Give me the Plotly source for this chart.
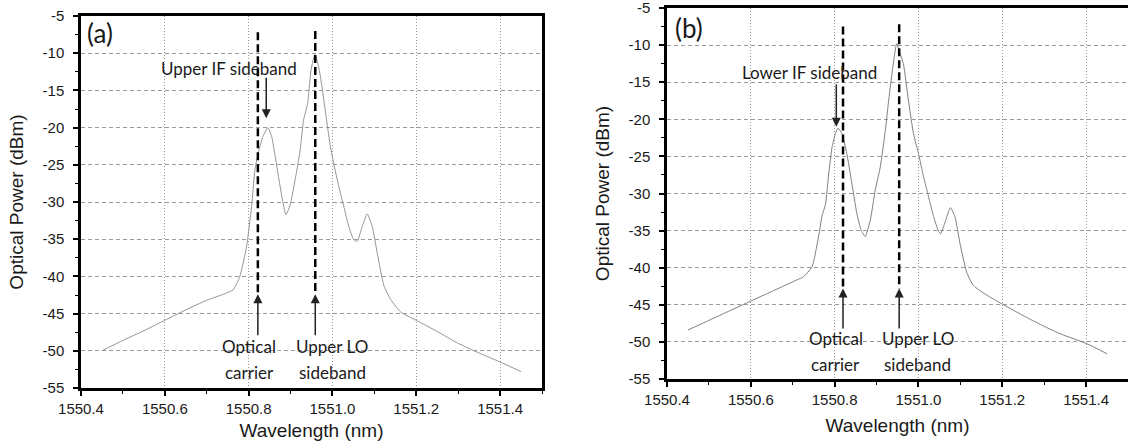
import plotly.graph_objects as go

W, H = 1128, 448

# ---------------- data ----------------
wl_a = [1550.45, 1550.50, 1550.55, 1550.60, 1550.65, 1550.70, 1550.74, 1550.763, 1550.779,
        1550.795, 1550.807, 1550.815, 1550.823, 1550.834, 1550.846, 1550.855, 1550.866,
        1550.874, 1550.879, 1550.889, 1550.899, 1550.911, 1550.923, 1550.931, 1550.941,
        1550.949, 1550.958, 1550.967, 1550.975, 1550.986, 1550.995, 1551.003, 1551.015,
        1551.027, 1551.039, 1551.051, 1551.059, 1551.071, 1551.083, 1551.095, 1551.107,
        1551.123, 1551.139, 1551.163, 1551.20, 1551.25, 1551.30, 1551.35, 1551.40, 1551.45]
p_a = [-50.0, -48.6, -47.3, -45.9, -44.5, -43.2, -42.4, -41.8, -40.0,
       -36.0, -30.6, -25.7, -23.4, -21.2, -20.0, -21.2, -24.8,
       -27.5, -29.2, -31.7, -30.4, -27.0, -23.0, -19.0, -16.7,
       -12.2, -10.2, -11.8, -14.5, -19.0, -22.5, -24.8, -27.9,
       -30.6, -33.3, -35.1, -35.3, -33.3, -31.6, -33.3, -36.9,
       -41.3, -43.1, -44.8, -45.9, -47.4, -49.0, -50.3, -51.5, -52.8]

wl_b = [1550.45, 1550.50, 1550.55, 1550.60, 1550.65, 1550.70, 1550.726, 1550.746, 1550.761,
        1550.770, 1550.778, 1550.786, 1550.794, 1550.802, 1550.808, 1550.817, 1550.829,
        1550.841, 1550.853, 1550.863, 1550.873, 1550.885, 1550.897, 1550.909, 1550.921,
        1550.929, 1550.939, 1550.948, 1550.956, 1550.964, 1550.976, 1550.988, 1551.000,
        1551.012, 1551.024, 1551.036, 1551.048, 1551.053, 1551.064, 1551.076, 1551.087,
        1551.099, 1551.115, 1551.131, 1551.163, 1551.20, 1551.258, 1551.30, 1551.338,
        1551.40, 1551.45]
p_b = [-48.4, -47.1, -45.8, -44.5, -43.2, -41.9, -41.2, -39.9, -36.0,
       -33.0, -31.5, -27.3, -23.7, -21.9, -21.2, -21.9, -24.6,
       -28.6, -32.7, -34.9, -35.8, -33.6, -29.5, -26.4, -21.5,
       -17.4, -12.9, -9.8, -11.1, -12.5, -17.4, -21.9, -24.6,
       -27.7, -30.4, -33.1, -35.1, -35.4, -33.8, -31.9, -33.1,
       -36.7, -40.6, -42.4, -43.7, -44.9, -46.7, -47.9, -48.9,
       -50.2, -51.6]

x_tick_vals = [1550.4, 1550.6, 1550.8, 1551.0, 1551.2, 1551.4]
x_tick_text = ["1550.4", "1550.6", "1550.8", "1551.0", "1551.2", "1551.4"]
y_tick_vals = [-5, -10, -15, -20, -25, -30, -35, -40, -45, -50, -55]
y_tick_text = ["-5", "-10", "-15", "-20", "-25", "-30", "-35", "-40", "-45", "-50", "-55"]

# marker wavelengths (dashed guide lines / arrows)
carrier_a, lo_a, if_a = 1550.822, 1550.959, 1550.842
carrier_b, lo_b, if_b = 1550.820, 1550.954, 1550.804

# ---------------- figure ----------------
fig = go.Figure()
fig.add_trace(go.Scatter(x=wl_a, y=p_a, mode="lines", xaxis="x", yaxis="y",
                         line=dict(color="#959595", width=1.0, shape="spline", smoothing=0.5),
                         showlegend=False, hoverinfo="skip"))
fig.add_trace(go.Scatter(x=wl_b, y=p_b, mode="lines", xaxis="x2", yaxis="y2",
                         line=dict(color="#808080", width=1.0, shape="spline", smoothing=0.5),
                         showlegend=False, hoverinfo="skip"))

TICK_FONT = dict(family="Liberation Sans, Arial, sans-serif", size=15, color="#1a1a1a")
TITLE_FONT = dict(family="Liberation Sans, Arial, sans-serif", size=19, color="#1a1a1a")
ANN_FONT = dict(family="Lato, Open Sans, sans-serif", size=17, color="#1a1a1a")


def xaxis_style(domain, anchor, standoff, title_standoff):
    return dict(domain=domain, anchor=anchor, range=[1550.4, 1551.5], automargin=False,
                tickmode="array", tickvals=x_tick_vals, ticktext=x_tick_text,
                tickfont=TICK_FONT, ticks="outside", ticklen=5, tickwidth=1.5, tickcolor="black",
                ticklabelstandoff=standoff, ticklabeloverflow="allow",
                showline=True, linecolor="black", linewidth=2.5, mirror=True,
                showgrid=True, gridcolor="#9a9a9a", gridwidth=1, griddash="1px,2px",
                zeroline=False,
                minor=dict(ticks="outside", ticklen=3, tickwidth=1.2, tickcolor="black",
                           dtick=0.1, tick0=1550.4, showgrid=False),
                title=dict(text="Wavelength (nm)", font=TITLE_FONT, standoff=title_standoff))


def yaxis_style(domain, anchor, standoff, title_standoff, mirror):
    return dict(domain=domain, anchor=anchor, range=[-55, -5], automargin=False,
                tickmode="array", tickvals=y_tick_vals, ticktext=y_tick_text,
                tickfont=TICK_FONT, ticks="outside", ticklen=5, tickwidth=1.5, tickcolor="black",
                ticklabelstandoff=standoff, ticklabeloverflow="allow",
                showline=True, linecolor="black", linewidth=2.5, mirror=mirror,
                showgrid=True, gridcolor="#9a9a9a", gridwidth=1, griddash="4px,3px",
                zeroline=False,
                minor=dict(ticks="outside", ticklen=3, tickwidth=1.2, tickcolor="black",
                           dtick=2.5, tick0=-55, showgrid=False),
                title=dict(text="Optical Power (dBm)", font=TITLE_FONT, standoff=title_standoff))


fig.update_layout(
    width=W, height=H,
    margin=dict(l=0, r=0, t=0, b=0, autoexpand=False),
    paper_bgcolor="white", plot_bgcolor="white",
    xaxis=xaxis_style([81 / W, 542 / W], "y", 0, 8),
    yaxis=yaxis_style([60 / H, 432 / H], "x", 6, 14, True),
    xaxis2=xaxis_style([667 / W, 1.0], "y2", 0, 12),
    yaxis2=yaxis_style([69 / H, 440 / H], "x2", 6, 14, False),
)

# dashed guide lines
dash_lines = [("x", "y", carrier_a, -7.2, -42.4), ("x", "y", lo_a, -7.0, -42.4),
              ("x2", "y2", carrier_b, -7.5, -42.8), ("x2", "y2", lo_b, -7.2, -42.8)]
for xr, yr, xv, y0, y1 in dash_lines:
    fig.add_shape(type="line", xref=xr, yref=yr, x0=xv, x1=xv, y0=y0, y1=y1,
                  line=dict(color="black", width=2.5, dash="8px,4px"))

# arrows (tip at x,y ; tail at ax,ay)
arrows = [("x", "y", carrier_a, -42.4, -48.1), ("x", "y", lo_a, -42.4, -48.1),
          ("x", "y", if_a, -18.75, -13.1),
          ("x2", "y2", carrier_b, -42.8, -48.4), ("x2", "y2", lo_b, -42.8, -48.4),
          ("x2", "y2", if_b, -21.0, -15.1)]
for xr, yr, xv, ytip, ytail in arrows:
    fig.add_annotation(x=xv, y=ytip, ax=xv, ay=ytail, xref=xr, yref=yr, axref=xr, ayref=yr,
                       text="", showarrow=True, arrowhead=2, arrowsize=1.2, arrowwidth=1.5,
                       arrowcolor="#222222", standoff=0, startstandoff=0)

# text labels
labels = [("x", "y", 1550.752, -12.0, "Upper IF sideband"),
          ("x", "y", 1550.802, -49.45, "Optical"), ("x", "y", 1550.802, -52.9, "carrier"),
          ("x", "y", 1550.999, -49.45, "Upper LO"), ("x", "y", 1550.999, -52.9, "sideband"),
          ("x2", "y2", 1550.739, -13.7, "Lower IF sideband"),
          ("x2", "y2", 1550.803, -49.6, "Optical"), ("x2", "y2", 1550.803, -53.0, "carrier"),
          ("x2", "y2", 1550.998, -49.6, "Upper LO"), ("x2", "y2", 1550.998, -53.0, "sideband")]
for xr, yr, xv, yv, txt in labels:
    fig.add_annotation(x=xv, y=yv, xref=xr, yref=yr, text=txt, showarrow=False,
                       font=ANN_FONT, xanchor="center", yanchor="middle")

# panel labels
PANEL_FONT = dict(family="Lato, sans-serif", size=26, color="#1a1a1a")
fig.add_annotation(x=99.5 / W, y=1 - 33 / H, xref="paper", yref="paper", text="(a)",
                   showarrow=False, font=PANEL_FONT, xanchor="center", yanchor="middle")
fig.add_annotation(x=688.5 / W, y=1 - 28 / H, xref="paper", yref="paper", text="(b)",
                   showarrow=False, font=PANEL_FONT, xanchor="center", yanchor="middle")

fig.write_html("out.html")
